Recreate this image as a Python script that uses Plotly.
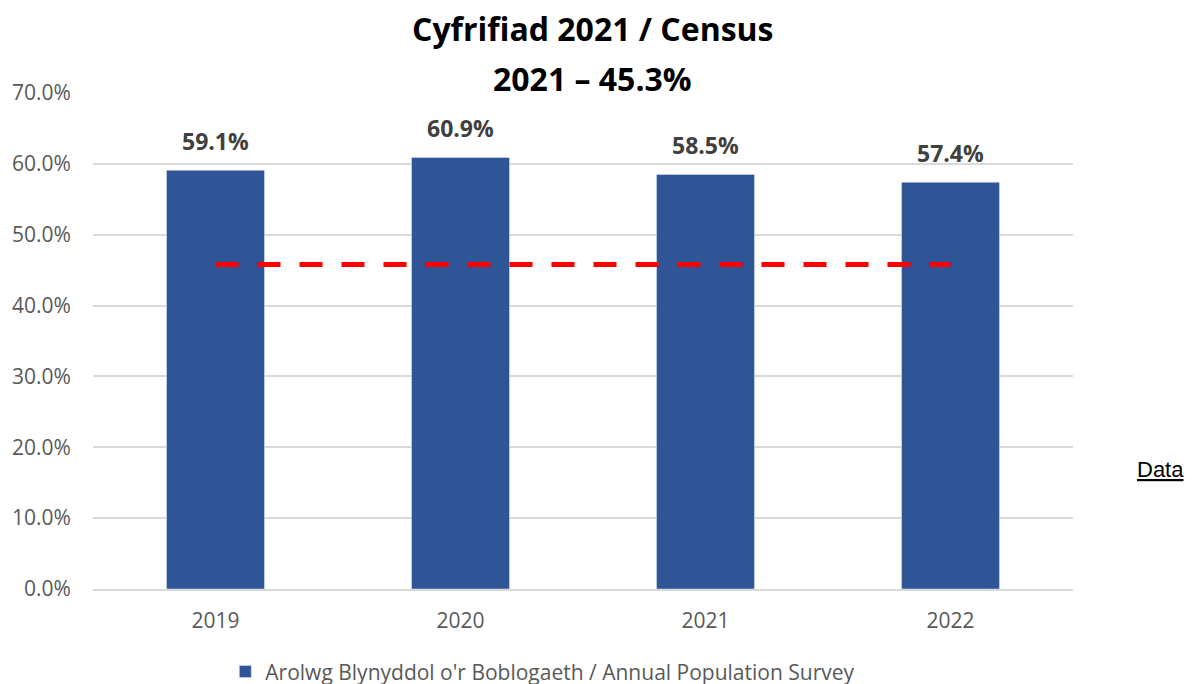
import plotly.graph_objects as go

years = ["2019", "2020", "2021", "2022"]
aps_values = [59.1, 60.9, 58.5, 57.4]
census_value = 45.8
tick_vals = [0, 10, 20, 30, 40, 50, 60, 70]
tick_text = ["0.0%", "10.0%", "20.0%", "30.0%", "40.0%", "50.0%", "60.0%", "70.0%"]
title_lines = ["Cyfrifiad 2021 / Census", "2021 – 45.3%"]

pos = list(range(len(years)))

fig = go.Figure()
fig.add_trace(go.Bar(
    x=pos, y=aps_values, width=0.4,
    marker=dict(color="#2F5597"),
    name="Arolwg Blynyddol o'r Boblogaeth / Annual Population Survey",
    showlegend=True,
))
fig.add_trace(go.Scatter(
    x=pos, y=[census_value] * len(years), mode="lines",
    line=dict(color="#FF0000", width=5, dash="23px,19px"),
    showlegend=False, hoverinfo="skip",
))
for p, v in zip(pos, aps_values):
    fig.add_annotation(x=p, y=v, text=f"<b>{v:.1f}%</b>", showarrow=False,
                       yshift=29, font=dict(family="Open Sans", size=23, color="#404040"))

for txt, yy in zip(title_lines, [1.131, 1.030]):
    fig.add_annotation(xref="paper", yref="paper", x=0.510, y=yy, xanchor="center",
                       yanchor="middle", text=f"<b>{txt}</b>", showarrow=False,
                       font=dict(family="Open Sans", size=32, color="#000000"))

fig.add_annotation(xref="paper", yref="paper", x=1.089, y=0.24, xanchor="center",
                   yanchor="middle", text="<u>Data</u>", showarrow=False,
                   font=dict(family="Liberation Sans", size=22, color="#000000"))

fig.update_layout(
    width=1197, height=720,
    plot_bgcolor="white", paper_bgcolor="white",
    margin=dict(l=85, r=132, t=85, b=139),
    xaxis=dict(range=[-0.5, len(years) - 0.5], tickvals=pos, ticktext=years,
               tickfont=dict(family="Open Sans", size=21, color="#595959"),
               showline=True, linecolor="#D9D9D9", linewidth=2, ticks="outside",
               ticklen=12, tickcolor="rgba(0,0,0,0)", showgrid=False, zeroline=False,
               automargin=False),
    yaxis=dict(range=[0, 70], tickvals=tick_vals, ticktext=tick_text,
               tickfont=dict(family="Open Sans", size=21, color="#595959"),
               gridcolor="#D9D9D9", gridwidth=1.5, zeroline=False, showline=False,
               ticks="outside", ticklen=17, tickcolor="rgba(0,0,0,0)",
               automargin=False),
    legend=dict(orientation="h", x=0.459, xanchor="center", y=-0.167, yanchor="middle",
                font=dict(family="Open Sans", size=21, color="#595959")),
)

fig.write_html("out.html")
